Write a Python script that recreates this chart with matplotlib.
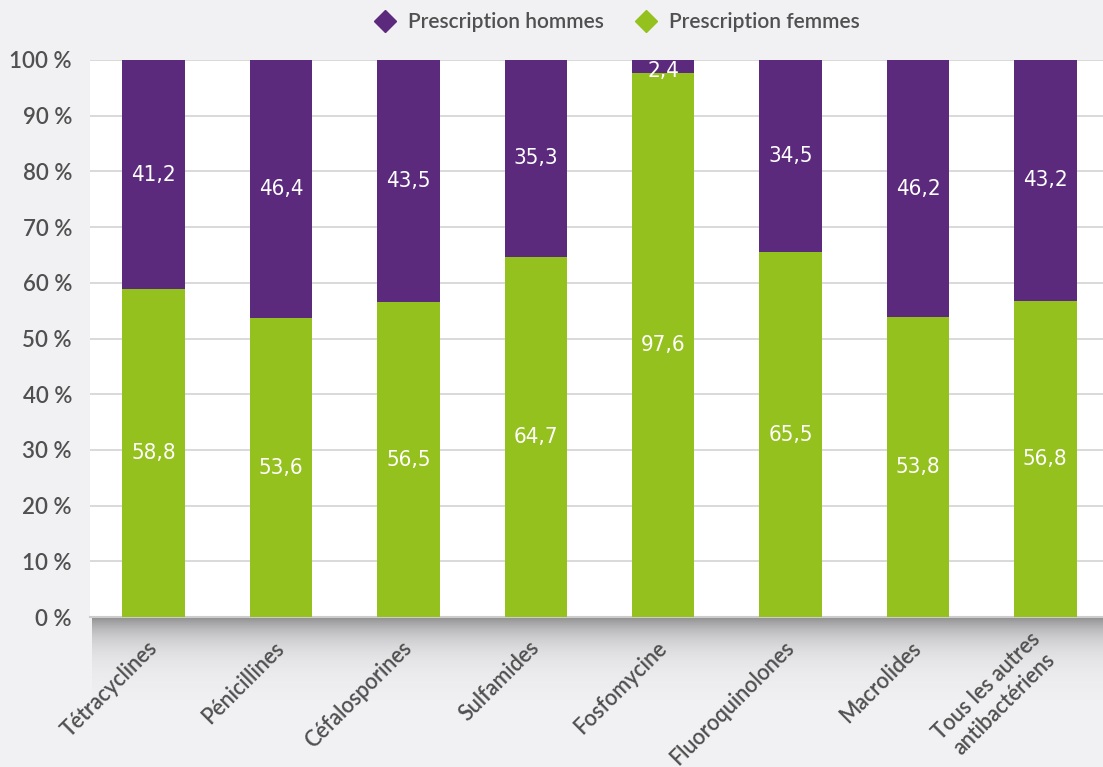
import numpy as np
import matplotlib.pyplot as plt
from matplotlib.lines import Line2D

### data
categories = ['Tétracyclines', 'Pénicillines', 'Céfalosporines', 'Sulfamides',
              'Fosfomycine', 'Fluoroquinolones', 'Macrolides',
              'Tous les autres\nantibactériens']
femmes = [58.8, 53.6, 56.5, 64.7, 97.6, 65.5, 53.8, 56.8]
hommes = [41.2, 46.4, 43.5, 35.3, 2.4, 34.5, 46.2, 43.2]
yticks = [0, 10, 20, 30, 40, 50, 60, 70, 80, 90, 100]

purple = '#5c2a7c'
green = '#95c11f'
grey_txt = '#505050'

plt.rcParams['font.family'] = ['Lato', 'DejaVu Sans']

fig = plt.figure(figsize=(11.03, 7.67), dpi=100)
fig.patch.set_facecolor('#f1f0f3')

### shadow under the plot area
W, H = 1103., 767.
sax = fig.add_axes([92 / W, (767 - 700) / H, 1020 / W, 83 / H])
t = np.linspace(0, 1, 120).reshape(-1, 1)
grad = 0.6 * np.exp(-t * 4.0)
sax.imshow(np.dstack([np.full_like(grad, 0.3)] * 3 + [grad]), aspect='auto',
           extent=[0, 1, 0, 1])
sax.axis('off')

### main axes
x0, x1 = 90 / W, 1109 / W
ytop, ybot = 60, 617
ax = fig.add_axes([x0, (H - ybot) / H, x1 - x0, (ybot - ytop) / H])
ax.set_facecolor('white')

x = np.arange(len(categories))
bw = 0.49
ax.bar(x, femmes, width=bw, color=green, zorder=3)
ax.bar(x, hommes, width=bw, bottom=femmes, color=purple, zorder=3)

for i in range(len(categories)):
    ax.text(x[i], femmes[i] / 2, ('%.1f' % femmes[i]).replace('.', ','),
            ha='center', va='center', color='white', fontsize=16,
            family='DejaVu Sans', fontstretch='condensed', zorder=4)
    yh = femmes[i] + hommes[i] / 2
    if hommes[i] < 5:
        yh = 98.0
    ax.text(x[i], yh, ('%.1f' % hommes[i]).replace('.', ','),
            ha='center', va='center', color='white', fontsize=16,
            family='DejaVu Sans', fontstretch='condensed', zorder=4)

ax.set_xlim(-0.5, len(categories) - 0.5)
ax.set_ylim(0, 100)
ax.set_yticks(yticks)
ax.set_yticklabels(['%d %%' % v for v in yticks], fontsize=16, color=grey_txt,
                   fontweight='semibold')
ax.yaxis.grid(True, color='#d3d3d3', linewidth=1.2, zorder=0)
ax.set_xticks(x)
ax.set_xticklabels(categories, rotation=45, ha='right', va='center',
                   rotation_mode='anchor', fontsize=15.5, color=grey_txt,
                   multialignment='center', fontweight='semibold')
ax.tick_params(axis='x', length=0, pad=20)
ax.tick_params(axis='y', length=0, pad=13)
for s in ['top', 'right', 'left']:
    ax.spines[s].set_visible(False)
ax.spines['bottom'].set_color('#cccccc')
ax.spines['bottom'].set_linewidth(1.5)

### legend
handles = [Line2D([], [], marker='D', color=purple, linestyle='', markersize=11),
           Line2D([], [], marker='D', color=green, linestyle='', markersize=11)]
leg = fig.legend(handles, ['Prescription hommes', 'Prescription femmes'],
                 loc='center', bbox_to_anchor=(612 / W, 1 - 22 / H), ncol=2,
                 frameon=False, fontsize=15, handletextpad=0.1,
                 columnspacing=1.0, labelcolor=grey_txt)
for txt in leg.get_texts():
    txt.set_fontweight('semibold')

plt.savefig('out.png', dpi=100, facecolor=fig.get_facecolor())
